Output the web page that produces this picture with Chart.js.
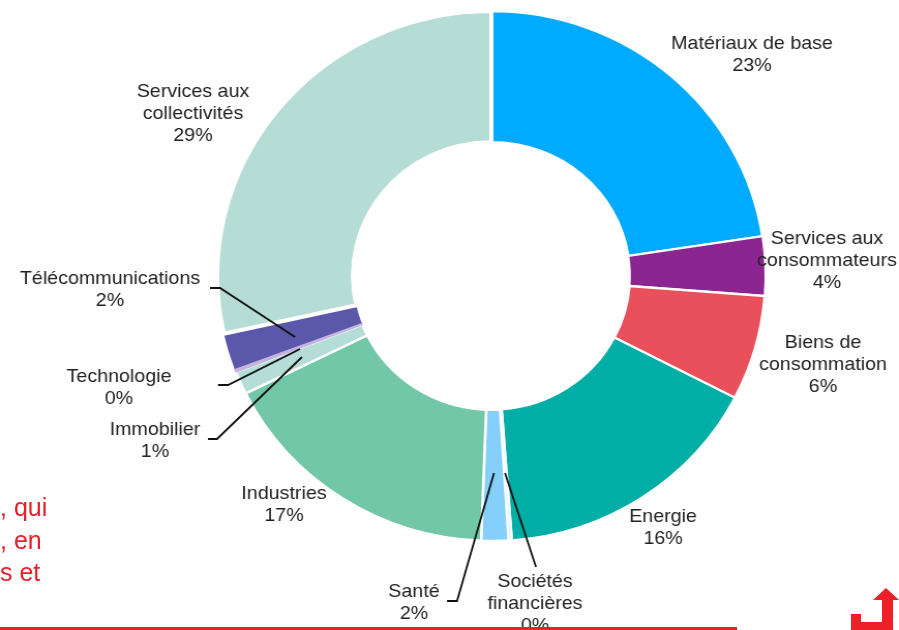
<!DOCTYPE html>
<html lang="fr">
<head>
<meta charset="utf-8">
<title>Répartition sectorielle</title>
<script src="https://cdn.jsdelivr.net/npm/chart.js@4"></script>
<style>
  html, body { margin: 0; padding: 0; background: #fff; overflow: hidden; }
  #page { position: relative; width: 899px; height: 630px; overflow: hidden; }
  /* the ring is slightly wider than tall, so the whole canvas gets stretched */
  #chart-box { position: absolute; left: 0; top: 0; width: 869px; height: 630px;
               transform: scaleX(1.0345); transform-origin: 0 0; }
  .note { position: absolute; left: 0; font: 25px "Liberation Sans", Arial, sans-serif; color: #e8202a; white-space: pre; }
  #rule { position: absolute; left: 0; top: 627px; width: 737px; height: 3px; background: #e8202a; }
  #arrow { position: absolute; left: 850px; top: 587px; }
</style>
</head>
<body>
<div id="page">
  <div id="chart-box"><canvas id="sector-chart" width="869" height="630"></canvas></div>
  <div class="note" style="top:493px">, qui</div>
  <div class="note" style="top:526px">, en</div>
  <div class="note" style="top:558px">s et</div>
  <div id="rule"></div>
  <svg id="arrow" width="49" height="43" viewBox="0 0 49 43">
    <path d="M36 1 L49 13 L43 13 L43 43 L1 43 L1 27 L11 27 L11 35 L32 35 L32 13 L23 13 Z" fill="#ee2027"/>
  </svg>
</div>

<script>
// Sectors, clockwise from the top of the ring
const sectors = ['Matériaux de base', 'Services aux consommateurs', 'Biens de consommation', 'Energie',
  'Sociétés financières', 'Santé', 'Industries', 'Immobilier', 'Technologie', 'Télécommunications',
  'Services aux collectivités'];
const weights = [22.6, 3.6, 6.4, 16.2, 0.2, 1.6, 17.1, 1.4, 0.2, 2.2, 28.5];
const colors = ['#00aaff', '#8b2590', '#e8505b', '#00aea6', '#cfeefb', '#85cffb', '#72c7a8', '#b3ddd6',
  '#c3b4dd', '#5b57ab', '#b5ddd6'];

// White separators, except inside the thin Technologie/Télécommunications pair.
// Arcs paint in order, so the wide last border also widens the gap at the top.
const borderColors = ['#fff', '#fff', '#fff', '#fff', '#fff', '#fff', '#fff', '#fff', '#c3b4dd', '#5b57ab', '#fff'];
const borderWidths = [2.5, 2, 2.5, 2, 2, 2.5, 2.5, 2.5, 1.5, 0, 4];

// Label lines per sector; the percentage is appended from the weight
const labelLines = [['Matériaux de base'], ['Services aux', 'consommateurs'], ['Biens de', 'consommation'], ['Energie'],
  ['Sociétés', 'financières'], ['Santé'], ['Industries'], ['Immobilier'], ['Technologie'], ['Télécommunications'],
  ['Services aux', 'collectivités']];
const labelX = [752, 827, 823, 663, 535, 414, 284, 155, 119, 110, 193];
const labelY = [44, 239, 343, 517, 582, 592, 494, 430, 377, 279, 92];

// Leader lines for the sectors too thin to hold a label near them
const leaders = [
  [[210, 288], [220, 288], [295, 337]],
  [[218, 385], [228, 385], [300, 349]],
  [[208, 439], [217, 439], [302, 357]],
  [[447, 601], [457, 601], [494, 473]],
  [[536, 567], [505, 473]]
];

const stretchX = 1.0345;

const sectorLabels = {
  id: 'sectorLabels',
  afterDatasetsDraw(chart) {
    const ctx = chart.ctx;
    ctx.save();
    ctx.strokeStyle = '#111';
    ctx.lineWidth = 1.8;
    leaders.forEach(points => {
      ctx.beginPath();
      points.forEach(([x, y], i) => {
        if (i === 0) ctx.moveTo(x / stretchX, y);
        else ctx.lineTo(x / stretchX, y);
      });
      ctx.stroke();
    });

    ctx.fillStyle = '#222';
    ctx.font = '19px "Liberation Sans", Arial, sans-serif';
    ctx.textAlign = 'center';
    ctx.textBaseline = 'middle';
    sectors.forEach((name, i) => {
      const lines = labelLines[i].concat(Math.round(weights[i]) + '%');
      lines.forEach((line, n) => ctx.fillText(line, labelX[i] / stretchX, labelY[i] + n * 22));
    });
    ctx.restore();
  }
};

new Chart(document.getElementById('sector-chart'), {
  type: 'doughnut',
  data: {
    labels: sectors,
    datasets: [{
      data: weights,
      backgroundColor: colors,
      borderColor: borderColors,
      borderWidth: borderWidths
    }]
  },
  options: {
    responsive: false,
    animation: false,
    cutout: '50.5%',
    layout: { padding: { left: 208, right: 127, top: 9, bottom: 87 } },
    plugins: { legend: { display: false }, tooltip: { enabled: false } }
  },
  plugins: [sectorLabels]
});
</script>
</body>
</html>
